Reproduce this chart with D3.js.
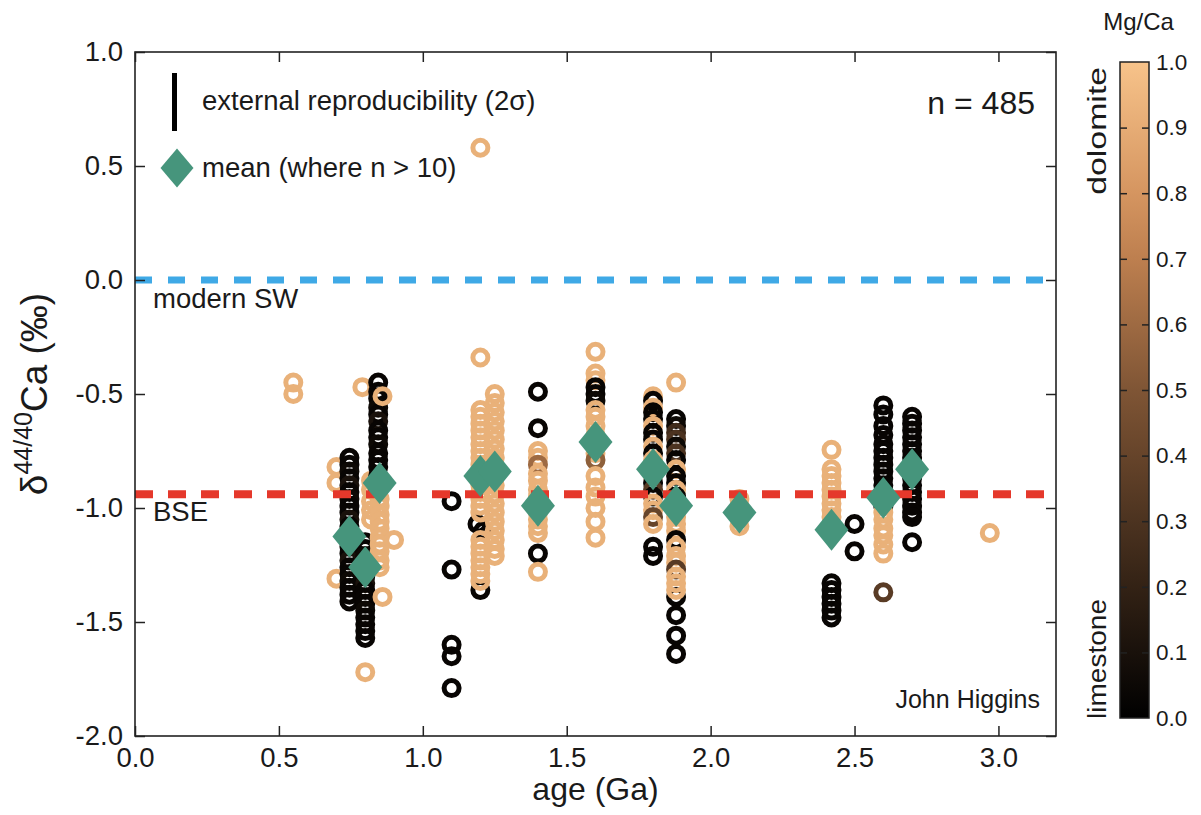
<!DOCTYPE html>
<html><head><meta charset="utf-8">
<script src="https://cdn.jsdelivr.net/npm/d3@7"></script>
<style>body{margin:0;background:#fff}svg{display:block;font-family:"Liberation Sans",Arial,sans-serif}</style>
</head><body><svg id="c" width="1201" height="815"></svg>
<script>
// ---------- data ----------
const xTicks = [0, 0.5, 1.0, 1.5, 2.0, 2.5, 3.0];
const yTicks = [-2.0, -1.5, -1.0, -0.5, 0.0, 0.5, 1.0];
const cbTicks = [0.0, 0.1, 0.2, 0.3, 0.4, 0.5, 0.6, 0.7, 0.8, 0.9, 1.0];
const seawater = 0.0;
const bse = -0.94;

// [age (Ga), d44/40Ca, Mg/Ca]
const pts055 = [[0.55,-0.45,0.92],[0.55,-0.50,0.92]];
const pts070 = [[0.70,-0.82,0.92],[0.70,-0.89,0.92],[0.70,-1.31,0.92]];
const pts075 = [[0.745,-0.78,0.03],[0.745,-0.81,0.03],[0.745,-0.84,0.05],[0.745,-0.87,0.03],[0.745,-0.90,0.1],[0.745,-0.93,0.03],[0.745,-0.96,0.05],[0.745,-0.99,0.03],[0.745,-1.02,0.03],[0.745,-1.05,0.1],[0.745,-1.08,0.03],[0.745,-1.11,0.03],[0.745,-1.14,0.05],[0.745,-1.17,0.03],[0.745,-1.20,0.03],[0.745,-1.23,0.1],[0.745,-1.26,0.03],[0.745,-1.29,0.03],[0.745,-1.32,0.05],[0.745,-1.35,0.03],[0.745,-1.38,0.03],[0.745,-1.41,0.03]];
const pts080 = [[0.82,-0.88,0.92],[0.82,-0.92,0.92],[0.82,-0.97,0.92],[0.82,-1.01,0.92],[0.82,-1.05,0.92],[0.80,-1.15,0.03],[0.80,-1.18,0.03],[0.80,-1.21,0.05],[0.80,-1.24,0.03],[0.80,-1.27,0.03],[0.80,-1.30,0.03],[0.80,-1.33,0.1],[0.80,-1.36,0.03],[0.80,-1.39,0.03],[0.80,-1.42,0.03],[0.80,-1.45,0.05],[0.80,-1.48,0.03],[0.80,-1.51,0.03],[0.80,-1.54,0.03],[0.80,-1.57,0.03],[0.80,-1.72,0.92],[0.79,-0.47,0.92]];
const pts085 = [[0.845,-0.45,0.03],[0.845,-0.49,0.03],[0.845,-0.52,0.03],[0.845,-0.56,0.05],[0.845,-0.59,0.03],[0.845,-0.62,0.1],[0.845,-0.66,0.03],[0.845,-0.69,0.03],[0.845,-0.72,0.05],[0.845,-0.76,0.03],[0.845,-0.79,0.03],[0.845,-0.82,0.03],[0.845,-0.86,0.03],[0.845,-0.89,0.03],[0.845,-0.92,0.03],[0.86,-0.51,0.92],[0.85,-0.96,0.92],[0.85,-0.99,0.92],[0.85,-1.03,0.92],[0.85,-1.06,0.92],[0.85,-1.09,0.92],[0.85,-1.13,0.92],[0.85,-1.16,0.92],[0.85,-1.19,0.92],[0.85,-1.23,0.92],[0.85,-1.26,0.92],[0.90,-1.14,0.92],[0.86,-1.39,0.92]];
const pts110 = [[1.10,-0.97,0.03],[1.10,-1.27,0.03],[1.10,-1.60,0.03],[1.10,-1.65,0.03],[1.10,-1.79,0.03]];
const pts120 = [[1.20,-1.36,0.03],[1.19,-1.07,0.03],[1.21,-1.10,0.03],[1.20,0.58,0.92],[1.20,-0.34,0.92],[1.20,-0.57,0.92],[1.20,-0.60,0.92],[1.20,-0.63,0.92],[1.20,-0.66,0.92],[1.20,-0.69,0.92],[1.20,-0.72,0.92],[1.20,-0.75,0.92],[1.20,-0.78,0.92],[1.20,-0.81,0.92],[1.20,-0.84,0.92],[1.20,-0.87,0.92],[1.20,-0.90,0.92],[1.20,-0.93,0.92],[1.20,-0.96,0.92],[1.20,-0.99,0.92],[1.20,-1.02,0.92],[1.20,-1.14,0.92],[1.20,-1.17,0.92],[1.20,-1.20,0.92],[1.20,-1.23,0.92],[1.20,-1.26,0.92],[1.20,-1.29,0.92],[1.20,-1.32,0.92]];
const pts125 = [[1.25,-0.50,0.92],[1.25,-0.54,0.92],[1.25,-0.58,0.92],[1.25,-0.62,0.92],[1.25,-0.66,0.92],[1.25,-0.70,0.92],[1.25,-0.74,0.92],[1.25,-0.78,0.92],[1.25,-0.82,0.92],[1.25,-0.86,0.92],[1.25,-0.90,0.92],[1.25,-0.94,0.92],[1.25,-0.98,0.92],[1.25,-1.02,0.92],[1.25,-1.06,0.92],[1.25,-1.10,0.92],[1.25,-1.14,0.92],[1.25,-1.18,0.92],[1.25,-1.21,0.92]];
const pts140 = [[1.40,-0.49,0.03],[1.40,-0.65,0.03],[1.40,-1.20,0.03],[1.40,-0.75,0.92],[1.40,-0.78,0.92],[1.40,-0.81,0.6],[1.40,-0.85,0.92],[1.40,-0.88,0.92],[1.40,-0.92,0.92],[1.40,-0.95,0.92],[1.40,-0.98,0.92],[1.40,-1.02,0.92],[1.40,-1.05,0.92],[1.40,-1.08,0.92],[1.40,-1.11,0.92],[1.40,-1.28,0.92]];
const pts160 = [[1.60,-0.315,0.92],[1.60,-0.41,0.92],[1.60,-0.44,0.92],[1.60,-0.47,0.03],[1.60,-0.50,0.03],[1.60,-0.53,0.05],[1.60,-0.57,0.92],[1.60,-0.60,0.92],[1.60,-0.64,0.92],[1.60,-0.68,0.92],[1.60,-0.72,0.92],[1.60,-0.76,0.92],[1.60,-0.79,0.55],[1.60,-0.86,0.92],[1.60,-0.91,0.92],[1.60,-0.95,0.92],[1.60,-1.00,0.92],[1.60,-1.06,0.92],[1.60,-1.13,0.92]];
const pts180 = [[1.80,-0.51,0.92],[1.80,-0.53,0.03],[1.80,-0.56,0.92],[1.80,-0.58,0.03],[1.80,-0.61,0.03],[1.80,-0.64,0.92],[1.80,-0.67,0.03],[1.80,-0.70,0.03],[1.80,-0.73,0.92],[1.80,-0.76,0.03],[1.80,-0.79,0.92],[1.80,-0.83,0.03],[1.80,-0.86,0.92],[1.80,-0.89,0.03],[1.80,-0.92,0.35],[1.80,-0.95,0.03],[1.80,-0.98,0.92],[1.80,-1.01,0.92],[1.80,-1.04,0.4],[1.80,-1.07,0.92],[1.80,-1.17,0.03],[1.80,-1.21,0.03]];
const pts188 = [[1.88,-0.45,0.92],[1.88,-0.61,0.03],[1.88,-0.64,0.05],[1.88,-0.67,0.25],[1.88,-0.70,0.3],[1.88,-0.73,0.05],[1.88,-0.76,0.3],[1.88,-0.79,0.03],[1.88,-0.83,0.92],[1.88,-0.86,0.03],[1.88,-0.89,0.03],[1.88,-0.92,0.92],[1.88,-0.95,0.03],[1.88,-0.98,0.92],[1.88,-1.01,0.92],[1.88,-1.04,0.92],[1.88,-1.07,0.92],[1.88,-1.10,0.92],[1.88,-1.14,0.03],[1.88,-1.39,0.03],[1.88,-1.17,0.92],[1.88,-1.21,0.92],[1.88,-1.24,0.92],[1.88,-1.27,0.35],[1.88,-1.30,0.92],[1.88,-1.33,0.92],[1.88,-1.36,0.92],[1.88,-1.47,0.03],[1.88,-1.56,0.03],[1.88,-1.64,0.03]];
const pts210 = [[2.10,-0.96,0.92],[2.10,-1.00,0.92],[2.10,-1.04,0.92],[2.10,-1.08,0.92]];
const pts242 = [[2.42,-0.745,0.92],[2.42,-0.83,0.92],[2.42,-0.86,0.92],[2.42,-0.89,0.92],[2.42,-0.92,0.92],[2.42,-0.95,0.92],[2.42,-0.98,0.92],[2.42,-1.01,0.92],[2.42,-1.04,0.92],[2.42,-1.07,0.92],[2.42,-1.33,0.03],[2.42,-1.36,0.03],[2.42,-1.39,0.03],[2.42,-1.42,0.03],[2.42,-1.45,0.03],[2.42,-1.48,0.03]];
const pts250 = [[2.50,-1.07,0.03],[2.50,-1.19,0.03]];
const pts260 = [[2.60,-0.55,0.03],[2.60,-0.59,0.03],[2.60,-0.64,0.03],[2.60,-0.68,0.03],[2.60,-0.72,0.03],[2.60,-0.75,0.03],[2.60,-0.78,0.03],[2.60,-0.81,0.03],[2.60,-0.84,0.03],[2.60,-0.87,0.03],[2.60,-0.90,0.03],[2.60,-0.93,0.03],[2.60,-0.96,0.03],[2.60,-0.99,0.03],[2.60,-1.02,0.92],[2.60,-1.05,0.92],[2.60,-1.09,0.92],[2.60,-1.12,0.92],[2.60,-1.16,0.92],[2.60,-1.20,0.92],[2.60,-1.37,0.35]];
const pts270 = [[2.70,-0.60,0.03],[2.70,-0.63,0.03],[2.70,-0.66,0.03],[2.70,-0.69,0.03],[2.70,-0.72,0.03],[2.70,-0.75,0.03],[2.70,-0.78,0.03],[2.70,-0.81,0.03],[2.70,-0.84,0.03],[2.70,-0.87,0.03],[2.70,-0.90,0.03],[2.70,-0.93,0.03],[2.70,-0.96,0.03],[2.70,-0.99,0.03],[2.70,-1.02,0.03],[2.70,-1.04,0.03],[2.70,-1.15,0.03]];
const pts297 = [[2.97,-1.11,0.92]];

const meanAge = [0.745, 0.80, 0.85, 1.20, 1.25, 1.40, 1.60, 1.80, 1.88, 2.10, 2.42, 2.60, 2.70];
const meanD44 = [-1.125, -1.26, -0.89, -0.86, -0.84, -0.99, -0.71, -0.83, -0.99, -1.02, -1.095, -0.955, -0.83];

// ---------- drawing ----------
const svg = d3.select("#c");
svg.append("rect").attr("width",1201).attr("height",815).attr("fill","#fff");
const x = d3.scaleLinear().domain([0, 3.2]).range([135, 1056]);
const y = d3.scaleLinear().domain([-2, 1]).range([736, 52]);
const mgColor = d3.scaleLinear().domain([0, 0.5, 0.75, 1]).range(["#000000", "#7f5535", "#cc8a55", "#f7c38a"]);
const axisCol = "#222";
const fam = '"Liberation Sans", Arial, sans-serif';

function styleAxis(g, fs) {
  g.select(".domain").remove();
  g.selectAll(".tick line").attr("stroke", axisCol).attr("stroke-width", 1.5);
  g.selectAll(".tick text").attr("fill", "#1a1a1a").attr("font-size", fs).attr("font-family", fam);
}
const fmt = d => d.toFixed(1);

// points
const allPts = [].concat(pts055, pts070, pts075, pts080, pts085, pts110, pts120, pts125, pts140, pts160, pts180, pts188, pts210, pts242, pts250, pts260, pts270, pts297);
svg.append("g").selectAll("circle").data(allPts).join("circle")
  .attr("cx", d => x(d[0])).attr("cy", d => y(d[1])).attr("r", 7.5)
  .attr("fill", "none").attr("stroke", d => mgColor(d[2])).attr("stroke-width", 5);

// reference lines
svg.append("line").attr("x1", x(0)).attr("x2", x(3.2)).attr("y1", y(seawater)).attr("y2", y(seawater))
  .attr("stroke", "#3fa9e6").attr("stroke-width", 7).attr("stroke-dasharray", "17,16");
svg.append("line").attr("x1", x(0)).attr("x2", x(3.2)).attr("y1", y(bse)).attr("y2", y(bse))
  .attr("stroke", "#e5382b").attr("stroke-width", 8).attr("stroke-dasharray", "18,15");

// means
const diamond = "M0,-21L17,0L0,21L-17,0Z";
svg.append("g").selectAll("path").data(meanAge.map((a, i) => [a, meanD44[i]])).join("path")
  .attr("d", diamond).attr("transform", d => `translate(${x(d[0])},${y(d[1])})`).attr("fill", "#46957c");

// frame
svg.append("rect").attr("x", x(0)).attr("y", y(1)).attr("width", x(3.2) - x(0)).attr("height", y(-2) - y(1))
  .attr("fill", "none").attr("stroke", axisCol).attr("stroke-width", 1.6);

// axes
styleAxis(svg.append("g").attr("transform", `translate(0,${y(-2)})`)
  .call(d3.axisBottom(x).tickValues(xTicks).tickSize(-10).tickPadding(11).tickFormat(fmt)), 27.5);
styleAxis(svg.append("g").attr("transform", `translate(0,${y(1)})`)
  .call(d3.axisTop(x).tickValues(xTicks).tickSize(-10).tickFormat("")), 27.5);
styleAxis(svg.append("g").attr("transform", `translate(${x(0)},0)`)
  .call(d3.axisLeft(y).tickValues(yTicks).tickSize(-10).tickPadding(12).tickFormat(fmt)), 27.5);
styleAxis(svg.append("g").attr("transform", `translate(${x(3.2)},0)`)
  .call(d3.axisRight(y).tickValues(yTicks).tickSize(-10).tickFormat("")), 27.5);

// axis titles
svg.append("text").attr("x", (x(0) + x(3.2)) / 2).attr("y", 800).attr("text-anchor", "middle")
  .attr("font-size", 32).attr("font-family", fam).attr("fill", "#1a1a1a").text("age (Ga)");
const yt = svg.append("text").attr("transform", `translate(47,${(y(1) + y(-2)) / 2}) rotate(-90)`)
  .attr("text-anchor", "middle").attr("font-size", 37).attr("font-family", fam).attr("fill", "#1a1a1a");
yt.append("tspan").text("δ");
yt.append("tspan").attr("font-size", 25).attr("dy", -15).text("44/40");
yt.append("tspan").attr("dy", 15).text("Ca (‰)");

// annotations
const ann = (tx, ty, t, fs, anchor) => svg.append("text").attr("x", tx).attr("y", ty).attr("font-size", fs)
  .attr("font-family", fam).attr("fill", "#1a1a1a").attr("text-anchor", anchor || "start").text(t);
ann(153, 308, "modern SW", 27.5);
ann(153, 521, "BSE", 27.5);
ann(1035, 114, "n = 485", 32, "end");
ann(1040, 708, "John Higgins", 25, "end");

// legend
svg.append("line").attr("x1", 174.5).attr("x2", 174.5).attr("y1", 73).attr("y2", 131).attr("stroke", "#000").attr("stroke-width", 5);
ann(202, 110, "external reproducibility (2σ)", 27.5);
svg.append("path").attr("d", "M0,-19.5L16.5,0L0,19.5L-16.5,0Z").attr("transform", "translate(177,168)").attr("fill", "#46957c");
ann(202, 177, "mean (where n > 10)", 27.5);

// colorbar
const cbX = 1120, cbW = 29;
const cbY = d3.scaleLinear().domain([0, 1]).range([718, 62]);
const grad = svg.append("defs").append("linearGradient").attr("id", "cbg").attr("x1", 0).attr("y1", 1).attr("x2", 0).attr("y2", 0);
grad.selectAll("stop").data(cbTicks).join("stop").attr("offset", d => d).attr("stop-color", d => mgColor(d));
svg.append("rect").attr("x", cbX).attr("y", cbY(1)).attr("width", cbW).attr("height", cbY(0) - cbY(1))
  .attr("fill", "url(#cbg)").attr("stroke", axisCol).attr("stroke-width", 1.5);
const inner = cbTicks.slice(1, -1);
styleAxis(svg.append("g").attr("transform", `translate(${cbX},0)`).call(d3.axisRight(cbY).tickValues(inner).tickSize(7).tickFormat("")), 20);
styleAxis(svg.append("g").attr("transform", `translate(${cbX + cbW},0)`).call(d3.axisLeft(cbY).tickValues(inner).tickSize(7).tickFormat("")), 20);
const cbl = svg.append("g").attr("transform", `translate(${cbX + cbW},0)`).call(d3.axisRight(cbY).tickValues(cbTicks).tickSize(0).tickPadding(7).tickFormat(fmt));
styleAxis(cbl, 22.5);
ann(cbX + cbW / 2 + 4, 30, "Mg/Ca", 24, "middle");
svg.append("text").attr("transform", `translate(1106,${cbY(0.895)}) rotate(-90)`).attr("text-anchor", "middle")
  .attr("font-size", 25).attr("font-family", fam).attr("fill", "#1a1a1a")
  .attr("textLength", 128).attr("lengthAdjust", "spacingAndGlyphs").text("dolomite");
svg.append("text").attr("transform", `translate(1106,${cbY(0.09)}) rotate(-90)`).attr("text-anchor", "middle")
  .attr("font-size", 25).attr("font-family", fam).attr("fill", "#1a1a1a")
  .attr("textLength", 120).attr("lengthAdjust", "spacingAndGlyphs").text("limestone");
</script></body></html>
